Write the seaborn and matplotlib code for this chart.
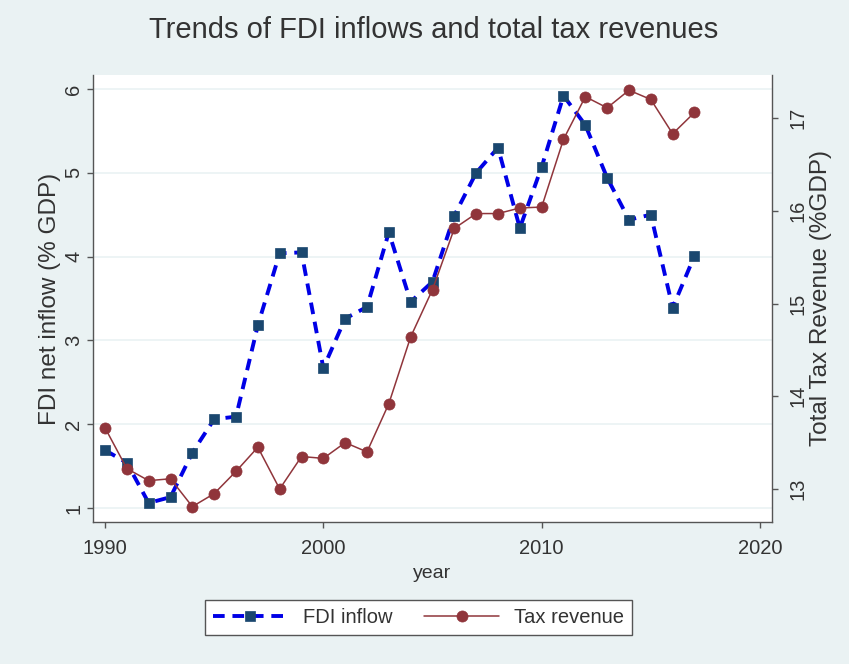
import matplotlib
matplotlib.use("Agg")
import matplotlib.pyplot as plt
import seaborn as sns
import pandas as pd

# ---- data ----
years = list(range(1990, 2018))
fdi_inflow = [1.69, 1.54, 1.06, 1.13, 1.66, 2.06, 2.09, 3.18, 4.04, 4.05,
              2.67, 3.26, 3.40, 4.29, 3.46, 3.70, 4.49, 5.00, 5.30, 4.34,
              5.07, 5.92, 5.57, 4.94, 4.44, 4.50, 3.39, 4.01]
tax_revenue = [13.66, 13.22, 13.09, 13.11, 12.81, 12.95, 13.19, 13.45, 13.00, 13.35,
               13.33, 13.50, 13.40, 13.92, 14.64, 15.15, 15.81, 15.97, 15.97, 16.03,
               16.04, 16.77, 17.23, 17.11, 17.30, 17.20, 16.83, 17.06]
series_labels = ["FDI inflow", "Tax revenue"]
x_ticks = [1990, 2000, 2010, 2020]
left_ticks = [1, 2, 3, 4, 5, 6]
right_ticks = [13, 14, 15, 16, 17]

sns.set_style("white")
plt.rcParams['font.family'] = ['Liberation Sans', 'DejaVu Sans']

BG = '#EAF2F3'
AXC = '#555555'
TXT = '#333333'

df = pd.DataFrame({'year': years, 'fdi': fdi_inflow, 'tax': tax_revenue})

fig = plt.figure(figsize=(8.49, 6.64), dpi=100, facecolor=BG)
ax = fig.add_axes([93/849, 1-522/664, 679/849, 447/664])
ax.set_facecolor('white')

sns.lineplot(data=df, x='year', y='fdi', ax=ax, errorbar=None, legend=False,
             color='#0000E6', linewidth=2.8, linestyle=(0, (3, 2)),
             marker='s', markersize=7.8, markerfacecolor='#1A476F',
             markeredgecolor='#1A476F', markeredgewidth=0.5)

ax2 = ax.twinx()
sns.lineplot(data=df, x='year', y='tax', ax=ax2, errorbar=None, legend=False,
             color='#90353B', linewidth=1.1,
             marker='o', markersize=8, markerfacecolor='#90353B',
             markeredgecolor='#90353B', markeredgewidth=0.5)

ax.set_xlim(1989.45, 2020.55)
ax.set_xticks(x_ticks)
ax.set_ylim(0.833, 6.167)
ax.set_yticks(left_ticks)
ax2.set_ylim(12.644, 17.464)
ax2.set_yticks(right_ticks)

ax.set_axisbelow(True)
ax.yaxis.grid(True, color=BG, linewidth=1.2)
ax.xaxis.grid(False)
ax2.grid(False)

for a in (ax, ax2):
    a.spines['top'].set_visible(False)
ax.spines['right'].set_visible(False)
ax2.spines['left'].set_visible(False)
ax2.spines['bottom'].set_visible(False)
for s in ('left', 'bottom'):
    ax.spines[s].set_color(AXC)
    ax.spines[s].set_linewidth(1.0)
ax2.spines['right'].set_color(AXC)
ax2.spines['right'].set_linewidth(1.0)

ax.tick_params(axis='x', bottom=True, direction='out', length=4, width=1,
               color=AXC, labelsize=14.5, labelcolor=TXT, pad=8.5)
ax.tick_params(axis='y', left=True, direction='out', length=4, width=1,
               color=AXC, labelsize=14.5, labelcolor=TXT, pad=3, labelrotation=90)
ax2.tick_params(axis='y', right=True, labelright=True, direction='out', length=4,
                width=1, color=AXC, labelsize=14.5, labelcolor=TXT, pad=8,
                labelrotation=90)
for lbl in ax.get_yticklabels() + ax2.get_yticklabels():
    lbl.set_va('center')

ax.set_xlabel('year', fontsize=14, color=TXT, va='center')
ax.xaxis.set_label_coords(0.5, -(574-522)/447)
ax.set_ylabel('FDI net inflow (% GDP)', fontsize=17.5, color=TXT, va='center', ha='center')
ax.yaxis.set_label_coords(-(93-50)/679, 0.5)
ax2.set_ylabel('Total Tax Revenue (%GDP)', fontsize=17.5, color=TXT, va='center',
               ha='center', rotation=90)
ax2.yaxis.set_label_coords((821-93)/679, 0.5)

fig.text(434/849, 1-30/664, 'Trends of FDI inflows and total tax revenues',
         ha='center', va='center', fontsize=21, color='#333333')

handles = [ax.get_lines()[0], ax2.get_lines()[0]]
leg = fig.legend(handles, series_labels, loc='center', ncol=2,
                 bbox_to_anchor=(418.5/849, 1-617.5/664),
                 fontsize=14.5, frameon=True, fancybox=False, framealpha=1,
                 edgecolor=AXC, facecolor='white', handlelength=3.7,
                 handletextpad=0.75, columnspacing=1.6, borderpad=0.4)
leg.get_frame().set_linewidth(1.0)
for t in leg.get_texts():
    t.set_color(TXT)

fig.savefig('out.png', dpi=100, facecolor=BG)
